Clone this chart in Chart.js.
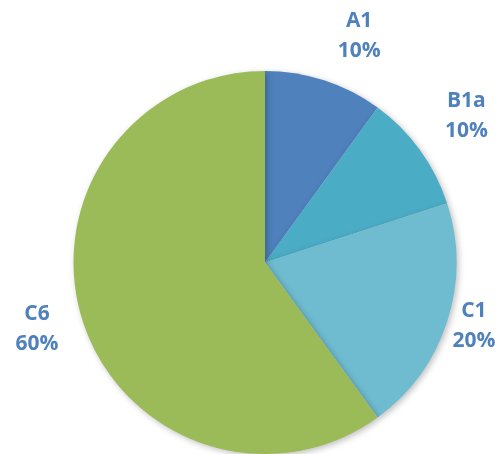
<!DOCTYPE html>
<html>
<head>
<meta charset="utf-8">
<script src="https://cdn.jsdelivr.net/npm/chart.js@4"></script>
<style>
  html, body { margin: 0; padding: 0; background: #fff; }
  #wrap { width: 500px; height: 454px; }
</style>
</head>
<body>
<div id="wrap"><canvas id="myChart"></canvas></div>
<script>
const labels = ['A1', 'B1a', 'C1', 'C6']
const values = [10, 10, 20, 60]
const colors = ['#4F81BD', '#4BACC6', '#6FBCD0', '#9BBB59']

// how far out each label sits (x radius) and a small angle nudge (radians)
const labelDist = [1.28, 1.30, 1.14, 1.24]
const labelNudge = [0.08, 0, -0.02, 0.03]

const outLabels = {
    id: 'outLabels',
    afterDatasetsDraw(chart) {
        const ctx = chart.ctx
        const meta = chart.getDatasetMeta(0)
        const total = values.reduce((a, b) => a + b, 0)
        ctx.save()
        ctx.fillStyle = '#4F81BD'
        ctx.font = 'bold 21px "Open Sans", sans-serif'
        ctx.textAlign = 'center'
        ctx.textBaseline = 'middle'
        meta.data.forEach((arc, i) => {
            const mid = (arc.startAngle + arc.endAngle) / 2 + labelNudge[i]
            const r = arc.outerRadius * labelDist[i]
            const x = arc.x + Math.cos(mid) * r
            const y = arc.y + Math.sin(mid) * r
            ctx.fillText(labels[i], x, y - 15)
            ctx.fillText(Math.round(values[i] / total * 100) + '%', x, y + 15)
        })
        ctx.restore()
    }
}

const shadow = {
    id: 'shadow',
    beforeDatasetsDraw(chart) {
        const ctx = chart.ctx
        ctx.save()
        ctx.shadowColor = 'rgba(0,0,0,0.25)'
        ctx.shadowBlur = 6
        ctx.shadowOffsetX = 2
        ctx.shadowOffsetY = 2
    },
    afterDatasetsDraw(chart) {
        chart.ctx.restore()
    }
}

var ctx = document.getElementById('myChart')
var myChart = new Chart(ctx, {
    type: 'pie',
    data: {
        labels: labels,
        datasets: [{
            data: values,
            backgroundColor: colors,
            borderColor: colors,
            borderWidth: 0
        }]
    },
    options: {
        responsive: true,
        maintainAspectRatio: false,
        animation: false,
        layout: { padding: { left: 73, right: 43, top: 71, bottom: 0 } },
        plugins: {
            legend: { display: false },
            tooltip: { enabled: false }
        }
    },
    plugins: [shadow, outLabels]
})
</script>
</body>
</html>
